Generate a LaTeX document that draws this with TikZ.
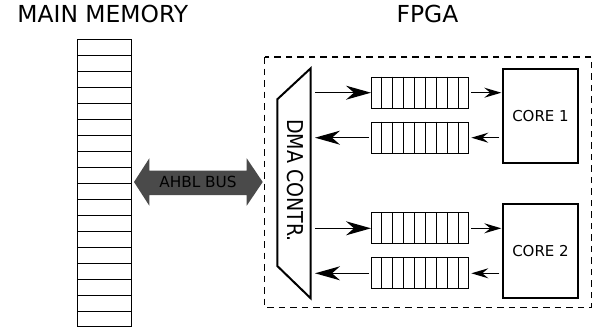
\documentclass[tikz,border=0pt]{standalone}
\usepackage{fontspec}
\setmainfont{DejaVu Sans}
\usetikzlibrary{arrows.meta,calc}
\definecolor{busgray}{HTML}{4A4A4A}

\tikzset{
  title/.style={font=\fontsize{23.4}{28}\selectfont, anchor=base, inner sep=0pt},
  lbl/.style={font=\fontsize{15}{18}\selectfont},
  fifo/.style={draw, line width=1pt, minimum width=97.3pt, minimum height=31pt,
    inner sep=0pt, anchor=north west},
  corebox/.style={draw, line width=2pt, minimum width=74.4pt, inner sep=0pt,
    anchor=north west, lbl},
  bigarrow/.style={-{Stealth[length=25pt,width=14pt,inset=8pt]}, line width=1.3pt},
  smallarrow/.style={-{Stealth[length=17pt,width=10pt,inset=6pt]}, line width=1.3pt},
}

\begin{document}
\begin{tikzpicture}[x=1pt,y=-1pt]
  \useasboundingbox (0,0) rectangle (594,327);

  % titles
  \node[title] (tmem) at (102.8,22.7) {MAIN MEMORY};
  \node[title] (tfpga) at (427.5,22.7) {FPGA};

  % main memory column of 18 words
  \node[draw, line width=1pt, minimum width=53.4pt, minimum height=286.7pt,
        inner sep=0pt, anchor=north west] (mem) at (77.3,39.3) {};
  \foreach \k in {1,...,17}
    \draw[line width=1pt] ($(mem.north west)!\k/18!(mem.south west)$)
                       -- ($(mem.north east)!\k/18!(mem.south east)$);

  % FPGA boundary
  \draw[line width=1.1pt, dash pattern=on 6.5pt off 5pt] (264.7,57) rectangle (591.7,307.3);

  % DMA controller
  \coordinate (dmaTR) at (310.7,68.3);
  \coordinate (dmaBR) at (310.7,298.3);
  \coordinate (dmaBL) at (277.3,266);
  \coordinate (dmaTL) at (277.3,99.3);
  \draw[line width=2pt, line join=miter] (dmaTR) -- (dmaBR) -- (dmaBL) -- (dmaTL) -- cycle;
  \node[rotate=-90, inner sep=0pt, font=\fontsize{19}{22}\selectfont] (dma) at (295,180.5)
    {\scalebox{1}[1.15]{DMA CONTR.}};
  \coordinate (dmaout) at (315,0);

  % AHBL bus
  \coordinate (busL) at (134,182);
  \coordinate (busR) at (262.7,182);
  \fill[busgray] (busL) -- ++(15.3,-23.7) -- ++(0,12.4) -- (246.7,170.7) -- (246.7,158.3)
    -- (busR) -- (246.7,205.7) -- (246.7,195) -- (149.3,195) -- (149.3,205.7) -- cycle;
  \node[font=\fontsize{15.3}{18}\selectfont, anchor=base, inner sep=0pt] (bus) at (198,187.7) {AHBL BUS};

  % FIFOs
  \node[fifo] (f1) at (371,76.7) {};
  \node[fifo] (f2) at (371,121.7) {};
  \node[fifo] (f3) at (371,212.3) {};
  \node[fifo] (f4) at (371,257.3) {};
  \foreach \f in {f1,f2,f3,f4}
    \foreach \k in {1,...,8}
      \draw[line width=1pt] ($(\f.north west)!\k/9!(\f.north east)$)
                         -- ($(\f.south west)!\k/9!(\f.south east)$);

  % cores
  \node[corebox, minimum height=93.4pt] (c1) at (502.3,68.3) {CORE 1};
  \node[corebox, minimum height=94pt] (c2) at (502.3,203.3) {CORE 2};

  % DMA <-> FIFO
  \draw[bigarrow] (f1.west -| dmaout) -- (f1.west);
  \draw[bigarrow] (f2.west) ++(-2,0) -- (f2.west -| dmaout);
  \draw[bigarrow] (f3.west -| dmaout) -- (f3.west);
  \draw[bigarrow] (f4.west) ++(-2,0) -- (f4.west -| dmaout);

  % FIFO <-> cores
  \draw[smallarrow] ([xshift=2pt]f1.east) -- ([xshift=-1pt]f1.east -| c1.west);
  \draw[smallarrow] ([xshift=-3pt]f2.east -| c1.west) -- ([xshift=2pt]f2.east);
  \draw[smallarrow] ([xshift=2pt]f3.east) -- ([xshift=-1pt]f3.east -| c2.west);
  \draw[smallarrow] ([xshift=-3pt]f4.east -| c2.west) -- ([xshift=2pt]f4.east);
\end{tikzpicture}
\end{document}
